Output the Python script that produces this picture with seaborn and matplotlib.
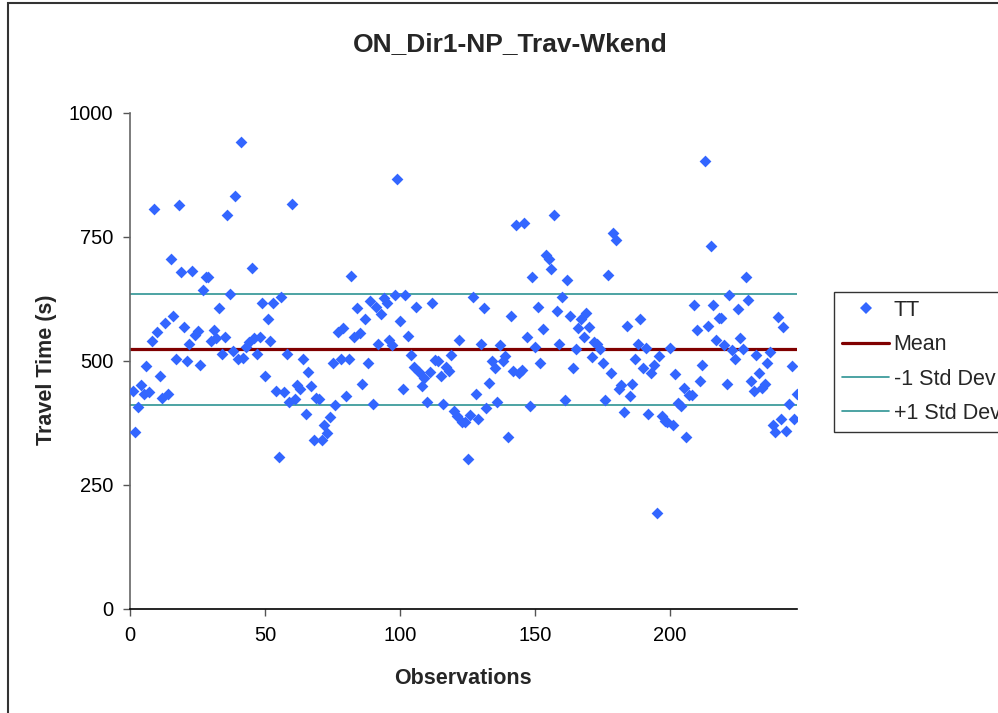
import numpy as np
import pandas as pd
import matplotlib
matplotlib.use("Agg")
import matplotlib.pyplot as plt
from matplotlib.patches import Rectangle
import seaborn as sns

title = "ON_Dir1-NP_Trav-Wkend"
x_label = "Observations"
y_label = "Travel Time (s)"
x_ticks = [0, 50, 100, 150, 200]
y_ticks = [0, 250, 500, 750, 1000]

travel_time = [
    440, 357, 407, 452, 434, 490, 437, 541, 806, 558,
    470, 426, 577, 434, 705, 591, 505, 814, 679, 568,
    499, 534, 682, 553, 561, 492, 643, 669, 669, 540,
    562, 546, 607, 515, 548, 794, 636, 521, 833, 505,
    942, 507, 529, 539, 688, 546, 515, 548, 616, 470,
    584, 541, 616, 440, 306, 630, 437, 515, 417, 817,
    423, 452, 443, 505, 394, 478, 450, 341, 426, 423,
    341, 371, 354, 387, 495, 411, 559, 505, 566, 430,
    505, 672, 549, 607, 556, 453, 584, 495, 620, 413,
    609, 534, 595, 628, 616, 542, 532, 633, 866, 581,
    443, 633, 551, 512, 487, 609, 478, 450, 465, 417,
    477, 616, 502, 499, 470, 413, 487, 480, 512, 399,
    389, 542, 378, 378, 302, 391, 630, 433, 384, 534,
    607, 405, 456, 500, 485, 418, 532, 499, 510, 347,
    591, 480, 774, 475, 482, 778, 548, 409, 669, 528,
    609, 495, 565, 714, 705, 685, 794, 601, 535, 630,
    421, 663, 591, 485, 525, 567, 584, 548, 597, 568,
    508, 538, 535, 525, 495, 421, 673, 475, 759, 743,
    443, 452, 397, 571, 430, 453, 505, 535, 585, 485,
    526, 394, 475, 492, 194, 510, 390, 380, 378, 527,
    371, 473, 415, 410, 445, 347, 431, 431, 613, 562,
    460, 492, 903, 571, 732, 613, 542, 587, 587, 532,
    453, 633, 522, 504, 604, 546, 524, 669, 623, 460,
    440, 512, 475, 446, 453, 495, 519, 371, 356, 588,
    384, 568, 359, 413, 489, 384, 433,
]
observations = list(range(1, len(travel_time) + 1))

mean_value = 525
minus_std_value = 411
plus_std_value = 636

series_labels = ["TT", "Mean", "-1 Std Dev", "+1 Std Dev"]

df = pd.DataFrame({"Observation": observations, "TT": travel_time})

sns.set_style("white")
plt.rcParams["font.family"] = ["Liberation Sans", "DejaVu Sans"]

fig = plt.figure(figsize=(9.98, 7.13), dpi=100)
ax = fig.add_axes([130 / 998, 1 - 609 / 713, (797 - 130) / 998, (609 - 113) / 713])

sns.scatterplot(data=df, x="Observation", y="TT", ax=ax, marker="D",
                s=36, color="#3366FF", linewidth=0, label=series_labels[0],
                zorder=3, legend=False)
ax.axhline(mean_value, color="#800000", lw=2.3, label=series_labels[1], zorder=2)
ax.axhline(minus_std_value, color="#2E9494", lw=1.2, label=series_labels[2], zorder=2)
ax.axhline(plus_std_value, color="#2E9494", lw=1.2, label=series_labels[3], zorder=2)

ax.set_xlim(0, 247)
ax.set_ylim(0, 1000)
ax.set_xticks(x_ticks)
ax.set_yticks(y_ticks)
ax.tick_params(axis="both", labelsize=14.5, direction="out", length=5,
               width=1, colors="#555555", labelcolor="black", pad=7,
               left=True, bottom=True)
for side in ["top", "right"]:
    ax.spines[side].set_visible(False)
ax.spines["left"].set_color("#666666")
ax.spines["bottom"].set_color("black")
ax.spines["left"].set_linewidth(1.2)
ax.spines["bottom"].set_linewidth(1.2)

ax.set_xlabel(x_label, fontsize=15.5, fontweight="bold")
ax.set_ylabel(y_label, fontsize=15.5, fontweight="bold")
ax.xaxis.set_label_coords((463 - 130) / 667, (609 - 668) / 496)
ax.yaxis.set_label_coords((57 - 130) / 667, (609 - 370) / 496)
fig.text(510 / 998, 1 - 44 / 713, title, fontsize=19, fontweight="bold",
         ha="center", va="center")

handles = [
    plt.Line2D([], [], marker="D", ls="none", color="#3366FF", markersize=6,
               markeredgewidth=0),
    plt.Line2D([], [], color="#800000", lw=2.3),
    plt.Line2D([], [], color="#2E9494", lw=1.2),
    plt.Line2D([], [], color="#2E9494", lw=1.2),
]
leg = fig.legend(handles, series_labels, loc="upper left",
                 bbox_to_anchor=(834 / 998, 1 - 292 / 713), fontsize=15.5,
                 frameon=True, fancybox=False, edgecolor="black",
                 handlelength=2.2, handletextpad=0.2, labelspacing=0.62,
                 borderpad=0.37, borderaxespad=0)
leg.get_frame().set_linewidth(1.0)

fig.patches.append(Rectangle((8 / 998, -0.1), 1.2, 1.1 - 3 / 713,
                             transform=fig.transFigure, fill=False,
                             edgecolor="#333333", lw=1.5))

fig.savefig("out.png", dpi=100)
